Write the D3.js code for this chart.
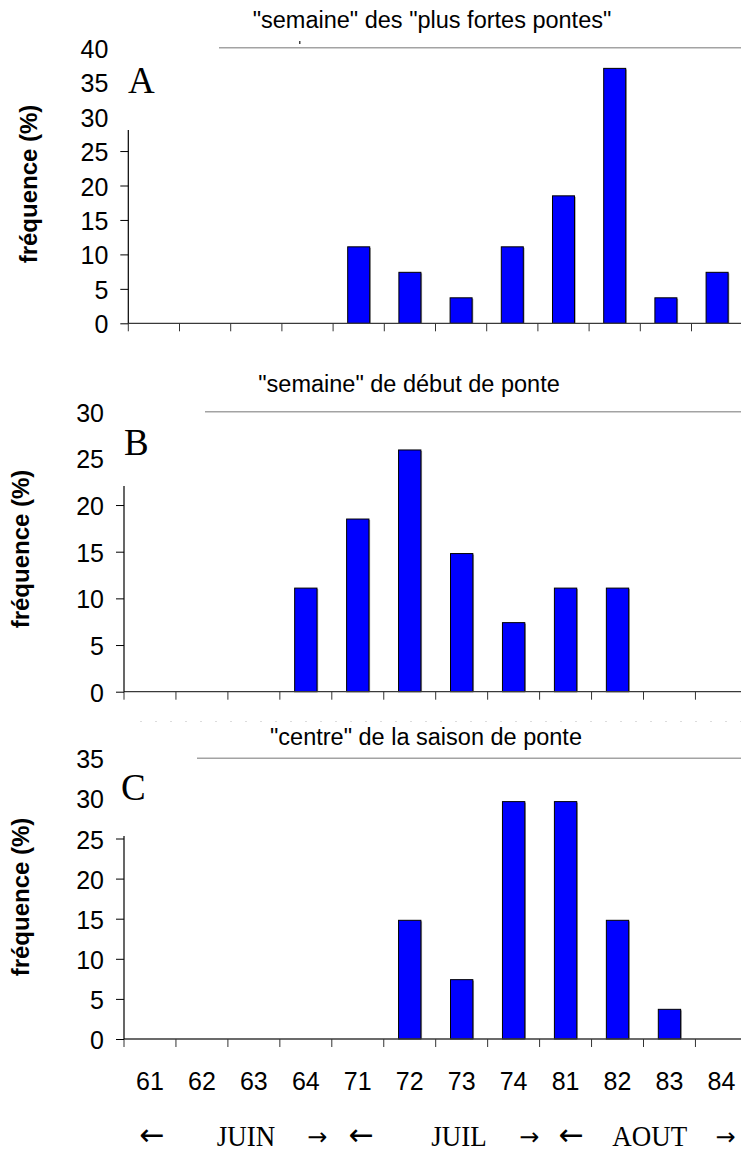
<!DOCTYPE html>
<html>
<head>
<meta charset="utf-8">
<script src="https://cdn.jsdelivr.net/npm/d3@7"></script>
<style>
  html, body { margin: 0; padding: 0; background: #fff; }
  svg { display: block; }
</style>
</head>
<body>
<svg id="chart" width="741" height="1151"></svg>
<script>
// ---------------- DATA ----------------
const categories = ["61", "62", "63", "64", "71", "72", "73", "74", "81", "82", "83", "84"];
const valuesA = [0, 0, 0, 0, 11.1, 7.4, 3.7, 11.1, 18.5, 37.0, 3.7, 7.4];
const valuesB = [0, 0, 0, 11.1, 18.5, 25.9, 14.8, 7.4, 11.1, 11.1, 0, 0];
const valuesC = [0, 0, 0, 0, 0, 14.8, 7.4, 29.6, 29.6, 14.8, 3.7, 0];
const yTicksA = [0, 5, 10, 15, 20, 25, 30, 35, 40];
const yTicksB = [0, 5, 10, 15, 20, 25, 30];
const yTicksC = [0, 5, 10, 15, 20, 25, 30, 35];
const titles = ['"semaine" des "plus fortes pontes"', '"semaine" de début de ponte', '"centre" de la saison de ponte'];
const panelLetters = ["A", "B", "C"];
const yAxisTitle = "fréquence (%)";
const monthNames = ["JUIN", "JUIL", "AOUT"];
const monthFirstWeek = ["61", "71", "81"];

// ---------------- LAYOUT ----------------
const svg = d3.select("#chart");
const W = 741;
const panels = [
  { values: valuesA, ticks: yTicksA, x0: 128.3, x1: 742.7, yTop: 47.7, yBot: 323.3, lineStart: 219, axisTop: 130,
    titleX: 432, titleY: 28, letterX: 128, letterY: 93, ylabX: 37, ylabY: 184 },
  { values: valuesB, ticks: yTicksB, x0: 124, x1: 747.4, yTop: 411.7, yBot: 691.7, lineStart: 205, axisTop: 486,
    titleX: 409, titleY: 392, letterX: 124, letterY: 455, ylabX: 29, ylabY: 549 },
  { values: valuesC, ticks: yTicksC, x0: 124, x1: 747.4, yTop: 758.3, yBot: 1039, lineStart: 197, axisTop: 836,
    titleX: 426, titleY: 745, letterX: 121, letterY: 800, ylabX: 29, ylabY: 897 }
];

let lastX = null;

panels.forEach((P, i) => {
  const g = svg.append("g");
  const yMax = d3.max(P.ticks);
  const x = d3.scaleBand().domain(categories).range([P.x0, P.x1]).padding(0);
  const y = d3.scaleLinear().domain([0, yMax]).range([P.yBot, P.yTop]);
  lastX = x;

  // top border line of plot area (grey)
  g.append("line")
    .attr("x1", P.x0).attr("x2", W)
    .attr("y1", y(yMax)).attr("y2", y(yMax))
    .attr("stroke", "#a3a3a3").attr("stroke-width", 1.5);

  // bars
  const bw = x.bandwidth() * 0.43;
  const data = categories.map((c, k) => ({ c, v: P.values[k] })).filter(d => d.v > 0);
  g.selectAll("rect.shadow").data(data).enter().append("rect")
    .attr("class", "shadow")
    .attr("x", d => x(d.c) + (x.bandwidth() - bw) / 2 + 1.2)
    .attr("y", d => y(d.v) + 1)
    .attr("width", bw)
    .attr("height", d => y(0) - y(d.v) - 1)
    .attr("fill", "#9a9a9a");
  g.selectAll("rect.bar").data(data).enter().append("rect")
    .attr("class", "bar")
    .attr("x", d => x(d.c) + (x.bandwidth() - bw) / 2)
    .attr("y", d => y(d.v))
    .attr("width", bw)
    .attr("height", d => y(0) - y(d.v))
    .attr("fill", "#0000ff")
    .attr("stroke", "#000")
    .attr("stroke-width", 1);

  // baseline
  g.append("line")
    .attr("x1", P.x0).attr("x2", W)
    .attr("y1", y(0)).attr("y2", y(0))
    .attr("stroke", "#3a3a3a").attr("stroke-width", 1.3);

  // x tick marks at category boundaries
  g.selectAll("line.xt").data(categories).enter().append("line")
    .attr("class", "xt")
    .attr("x1", d => x(d)).attr("x2", d => x(d))
    .attr("y1", y(0)).attr("y2", y(0) + 8)
    .attr("stroke", "#333").attr("stroke-width", 1);

  // y axis
  const ax = d3.axisLeft(y).tickValues(P.ticks).tickSize(8).tickPadding(12);
  const axG = g.append("g").attr("transform", `translate(${P.x0},0)`).call(ax);
  axG.select(".domain").remove();
  axG.selectAll(".tick line").attr("stroke", "#000");
  axG.selectAll(".tick text")
    .attr("font-family", "'Liberation Sans', Arial, sans-serif")
    .attr("font-size", 25)
    .attr("fill", "#000")
    .attr("dy", "0.38em");

  // white box covering the upper part of the axis (as in original)
  g.append("rect")
    .attr("x", 113).attr("y", y(yMax) - 10)
    .attr("width", P.lineStart - 113)
    .attr("height", P.axisTop - (y(yMax) - 10))
    .attr("fill", "#fff");

  // y axis line (visible part)
  g.append("line")
    .attr("x1", P.x0).attr("x2", P.x0)
    .attr("y1", P.axisTop).attr("y2", y(0))
    .attr("stroke", "#000").attr("stroke-width", 1.2);

  // title
  g.append("text")
    .attr("x", P.titleX).attr("y", P.titleY)
    .attr("text-anchor", "middle")
    .attr("font-family", "'Liberation Sans', Arial, sans-serif")
    .attr("font-size", 23.5)
    .attr("fill", "#000")
    .text(titles[i]);

  // panel letter
  g.append("text")
    .attr("x", P.letterX).attr("y", P.letterY)
    .attr("font-family", "'Liberation Serif', 'Times New Roman', serif")
    .attr("font-size", 37)
    .attr("fill", "#000")
    .text(panelLetters[i]);

  // y axis title
  g.append("text")
    .attr("transform", `translate(${P.ylabX},${P.ylabY}) rotate(-90)`)
    .attr("text-anchor", "middle")
    .attr("font-family", "'Liberation Sans', Arial, sans-serif")
    .attr("font-weight", "bold")
    .attr("font-size", 24)
    .attr("fill", "#000")
    .text(yAxisTitle);
});

// small artifact mark in panel A
svg.append("rect").attr("x", 299).attr("y", 41).attr("width", 1.5).attr("height", 3).attr("fill", "#444");

// faint dotted line between panels B and C
svg.append("line")
  .attr("x1", 140).attr("x2", W).attr("y1", 721.5).attr("y2", 721.5)
  .attr("stroke", "#dcdcdc").attr("stroke-width", 1).attr("stroke-dasharray", "2,13");

// x category labels under panel C
const xC = lastX;
svg.selectAll("text.xl").data(categories).enter().append("text")
  .attr("class", "xl")
  .attr("x", d => xC(d) + xC.bandwidth() / 2)
  .attr("y", 1090)
  .attr("text-anchor", "middle")
  .attr("font-family", "'Liberation Sans', Arial, sans-serif")
  .attr("font-size", 25)
  .attr("fill", "#000")
  .text(d => d);

// month row
const monthOffsets = [ { l: 0.54, t: 2.35, r: 3.72 }, { l: 0.57, t: 2.45, r: 3.80 }, { l: 0.61, t: 2.12, r: 3.58 } ];
const step = xC.step();
monthNames.forEach((m, k) => {
  const base = xC(monthFirstWeek[k]);
  const o = monthOffsets[k];
  svg.append("text")
    .attr("x", base + o.l * step).attr("y", 1145)
    .attr("text-anchor", "middle")
    .attr("font-family", "'DejaVu Sans', sans-serif")
    .attr("font-size", 30)
    .attr("fill", "#000")
    .text("←");
  svg.append("text")
    .attr("transform", `translate(${base + o.t * step},1146) scale(1,1.12)`)
    .attr("text-anchor", "middle")
    .attr("font-family", "'Liberation Serif', 'Times New Roman', serif")
    .attr("font-size", 27)
    .attr("fill", "#000")
    .text(m);
  svg.append("text")
    .attr("x", base + o.r * step).attr("y", 1145)
    .attr("text-anchor", "middle")
    .attr("font-family", "'DejaVu Sans', sans-serif")
    .attr("font-size", 24)
    .attr("fill", "#000")
    .text("→");
});
</script>
</body>
</html>
